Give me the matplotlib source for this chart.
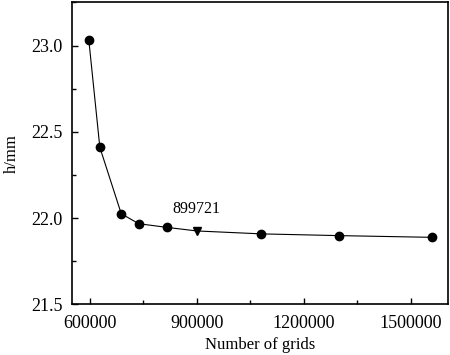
import numpy as np
import matplotlib.pyplot as plt
from matplotlib.ticker import MultipleLocator, FormatStrFormatter

# grid count vs h
grids = [597000, 628000, 688000, 737000, 815000, 899721, 1081000, 1297000, 1558000]
h = [23.035, 22.41, 22.025, 21.967, 21.946, 21.925, 21.908, 21.898, 21.888]
chosen = 5  # index of the selected mesh (triangle)
chosen_label = "899721"

plt.rcParams['font.family'] = ['Liberation Serif', 'DejaVu Serif']

fig = plt.figure(figsize=(4.5, 3.55), dpi=100)
ax = fig.add_axes([0.16, 0.143, 0.835, 0.85])

ax.plot(grids, h, color='black', lw=0.8, zorder=2)
others = [i for i in range(len(grids)) if i != chosen]
ax.plot([grids[i] for i in others], [h[i] for i in others], 'o',
        color='black', ms=6, zorder=3)
ax.plot(grids[chosen], h[chosen], 'v', color='black', ms=6, zorder=3)
ax.annotate(chosen_label, (grids[chosen], h[chosen]), xytext=(0, 10),
            textcoords='offset points', fontsize=11.5, ha='center', va='bottom')

ax.set_xlim(550000, 1603000)
ax.set_ylim(21.5, 23.25)
ax.xaxis.set_major_locator(MultipleLocator(300000))
ax.xaxis.set_minor_locator(MultipleLocator(150000))
ax.xaxis.set_major_formatter(FormatStrFormatter('%d'))
ax.yaxis.set_major_locator(MultipleLocator(0.5))
ax.yaxis.set_minor_locator(MultipleLocator(0.25))
ax.yaxis.set_major_formatter(FormatStrFormatter('%.1f'))

ax.tick_params(which='both', direction='in', top=False, right=False, labelsize=13)
ax.tick_params(which='major', length=4, width=1)
ax.tick_params(which='minor', length=3, width=1)
ax.tick_params(axis='x', pad=8)
ax.tick_params(axis='y', pad=7)
for s in ax.spines.values():
    s.set_linewidth(1.2)

ax.set_xlabel("Number of grids", fontsize=12, labelpad=3)
ax.set_ylabel("h/mm", fontsize=12, labelpad=8)

fig.savefig('out.png', dpi=100)
